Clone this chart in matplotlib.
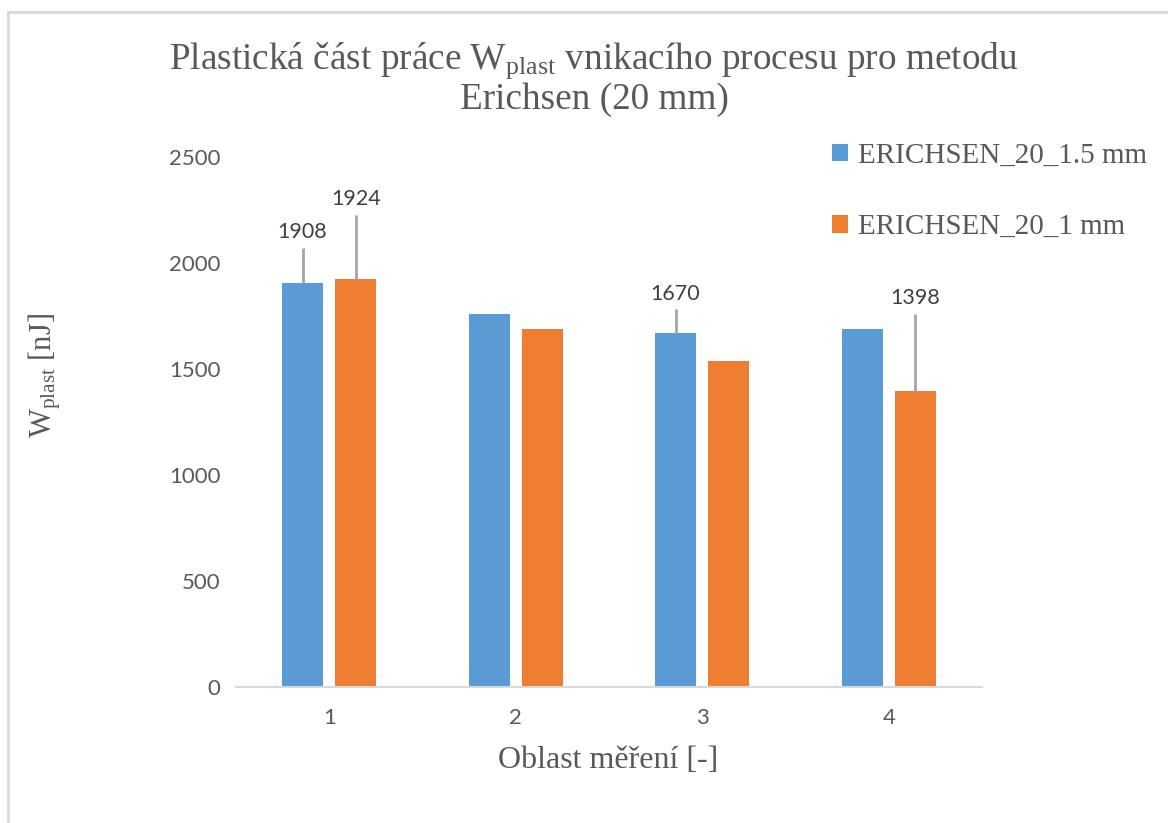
import matplotlib.pyplot as plt
import numpy as np
from matplotlib.lines import Line2D

serif = 'Liberation Serif'
plt.rcParams['mathtext.fontset'] = 'custom'
plt.rcParams['mathtext.rm'] = serif
plt.rcParams['mathtext.it'] = serif + ':italic'

# Data
categories = ['1', '2', '3', '4']
series_names = ['ERICHSEN_20_1.5 mm', 'ERICHSEN_20_1 mm']
w_15mm = [1908, 1758, 1670, 1687]
w_1mm = [1924, 1690, 1536, 1398]
err_15mm = [165, 0, 112, 0]
err_1mm = [304, 0, 0, 363]
# which bars get a value label
label_15mm = [True, False, True, False]
label_1mm = [True, False, False, True]

blue = '#5B9BD5'
orange = '#ED7D31'
grey_txt = '#595959'

W, H = 1168, 823
fig = plt.figure(figsize=(W / 100, H / 100), dpi=100)
ax = fig.add_axes([236 / W, 1 - 687 / H, (982 - 236) / W, (687 - 157) / H])

x = np.arange(1, len(categories) + 1)
bw = 0.22
off = 0.143

for vals, errs, labs, col, sign, name in [
        (w_15mm, err_15mm, label_15mm, blue, -1, series_names[0]),
        (w_1mm, err_1mm, label_1mm, orange, 1, series_names[1])]:
    pos = x + sign * off
    ax.bar(pos, vals, bw, color=col, label=name, zorder=2)
    ax.errorbar(pos, vals, yerr=[np.zeros(len(errs)), errs], fmt='none',
                ecolor='#A5A5A5', elinewidth=2, capsize=0, zorder=3)
    for p, v, e, show in zip(pos, vals, errs, labs):
        if show:
            ax.annotate(str(v), (p, v + e), xytext=(0, 4), textcoords='offset points',
                        ha='center', va='bottom', fontsize=15.5, color='#404040',
                        family='Lato')

ax.set_xlim(0.5, 4.5)
ax.set_ylim(0, 2500)
ax.set_yticks(np.arange(0, 2501, 500))
ax.set_xticks(x)
ax.set_xticklabels(categories)
for s in ['top', 'right', 'left']:
    ax.spines[s].set_visible(False)
ax.spines['bottom'].set_color('#D9D9D9')
ax.spines['bottom'].set_linewidth(1.5)
ax.tick_params(length=0, labelsize=16, labelcolor=grey_txt)
ax.tick_params(axis='x', pad=15)
ax.tick_params(axis='y', pad=11)
for t in ax.get_xticklabels() + ax.get_yticklabels():
    t.set_family('Lato')

fig.text(594 / W, 1 - 79 / H, 'Plastická část práce W$_{\\mathrm{plast}}$ vnikacího procesu pro metodu\nErichsen (20 mm)',
         ha='center', va='center', fontsize=26.8, family=serif, color=grey_txt,
         linespacing=1.05)
fig.text(608 / W, 1 - 760 / H, 'Oblast měření [-]', ha='center', va='center',
         fontsize=23, family=serif, color=grey_txt)
fig.text(45 / W, 1 - 376 / H, 'W$_{\\mathrm{plast}}$ [nJ]', ha='center', va='center',
         rotation=90, fontsize=22, family=serif, color=grey_txt)

leg = ax.legend(loc='upper left', bbox_to_anchor=(826 / W, 1 - 137 / H), bbox_transform=fig.transFigure,
                frameon=False, prop={'family': serif, 'size': 21}, labelcolor=grey_txt,
                handlelength=0.55, handleheight=0.55, handletextpad=0.35, labelspacing=1.55,
                borderaxespad=0, borderpad=0.2)

# chart border
fig.add_artist(Line2D([8 / W, 8 / W], [0, 1 - 12 / H], color='#D9D9D9', lw=2))
fig.add_artist(Line2D([8 / W, 1], [1 - 12 / H, 1 - 12 / H], color='#D9D9D9', lw=2))

fig.savefig('out.png', dpi=100)
